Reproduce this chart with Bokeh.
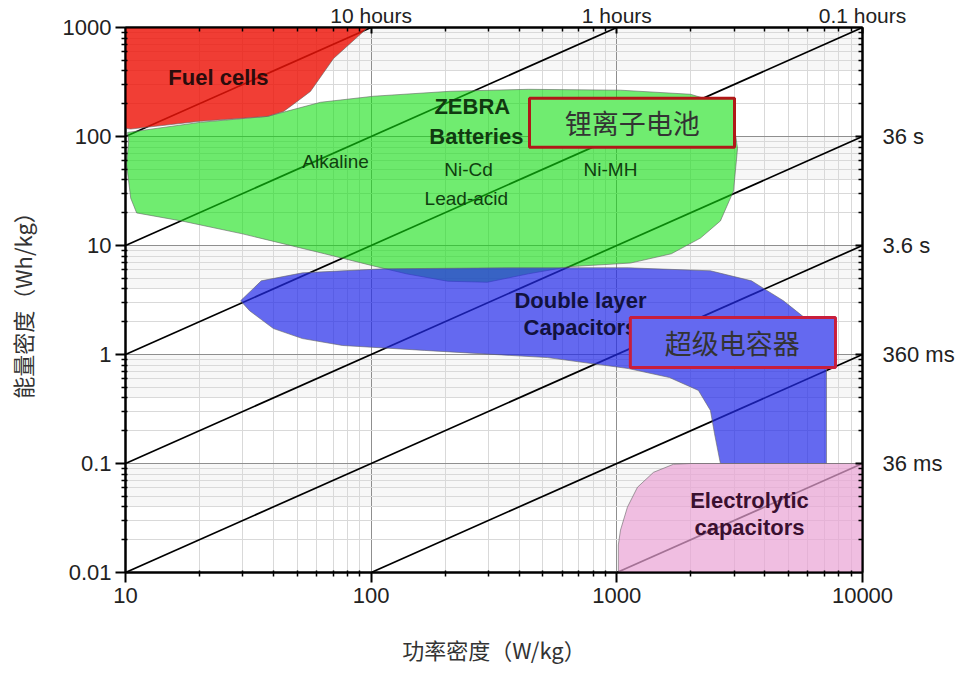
from bokeh.plotting import figure
from bokeh.models import LogAxis, FixedTicker, Range1d
from bokeh.core.properties import value
from bokeh.embed import file_html
from bokeh.resources import INLINE

# ---------------- axes / ticks ----------------
x_major = [10, 100, 1000, 10000]
x_tick_labels = ["10", "100", "1000", "10000"]
y_major = [0.01, 0.1, 1, 10, 100, 1000]
y_tick_labels = ["0.01", "0.1", "1", "10", "100", "1000"]
time_ticks = [0.1, 1, 10, 100]
time_labels = ["36 ms", "360 ms", "3.6 s", "36 s"]
hour_ticks = [100, 1000, 10000]
hour_labels = ["10 hours", "1 hours", "0.1 hours"]
mantissas = [2, 3, 4, 5, 6, 7, 8, 9]
x_minor = [m * d for d in [10, 100, 1000] for m in mantissas]
y_minor = [m * d for d in [0.01, 0.1, 1, 10, 100] for m in mantissas]

# light shading under each decade line
shade_top = [1000, 100, 10, 1, 0.1]
shade_bottom = [400, 40, 4, 0.4, 0.04]

# ---------------- constant discharge-time lines ----------------
line_p0 = [10, 10, 10, 10, 10, 100, 1000]
line_e0 = [100, 10, 1, 0.1, 0.01, 0.01, 0.01]
line_p1 = [100, 1000, 10000, 10000, 10000, 10000, 10000]
line_e1 = [1000, 1000, 1000, 100, 10, 1, 0.1]

# ---------------- regions (power W/kg, energy Wh/kg) ----------------
fuel_p = [10, 97, 70.3, 56.6, 48.3, 44, 37.9, 20.2, 10.5, 10]
fuel_e = [1000, 1000, 520, 259, 198, 170, 153, 138, 117, 119]

battery_p = [10.2, 20.2, 37.9, 62.2, 102, 210, 437, 1035, 1995, 2640, 2985, 3100,
             2985, 2640, 2190, 1667, 1135, 641, 437, 297, 205, 139, 102, 64.6,
             29.9, 16.9, 11.1, 10.5, 10.1, 10.3]
battery_e = [109, 135, 153, 206, 234, 260, 271, 266, 244, 202, 138, 78,
             31.6, 16.8, 11.7, 8.4, 6.9, 6.4, 5.5, 4.6, 4.7, 5.5, 6.5, 8.4,
             12.8, 16.8, 19.9, 27.2, 55.8, 90.6]

dlc_p = [29.4, 35.7, 52.5, 112, 356, 1114, 2404, 3532, 4766, 5804, 6745, 7134,
         7134, 2640, 2497, 2404, 2149, 1637, 1114, 522, 165, 76.4, 52.5, 40, 32]
dlc_e = [3.11, 4.74, 5.61, 6.11, 6.24, 6.24, 5.86, 4.74, 3.11, 2.18, 1.43, 0.88,
         0.1, 0.1, 0.189, 0.307, 0.468, 0.615, 0.743, 0.937, 1.09, 1.21, 1.40, 1.73, 2.52]

elec_p = [1014, 1014, 1035, 1104, 1213, 1410, 1700, 1995, 10000, 10000]
elec_e = [0.01, 0.0179, 0.0245, 0.0397, 0.0605, 0.083, 0.0984, 0.1, 0.1, 0.01]

# ---------------- region labels ----------------
fuel_lbl = dict(x=[23.9], y=[349], text=["Fuel cells"])
bat_bold_lbl = dict(x=[258, 268], y=[189, 100.7], text=["ZEBRA", "Batteries"])
bat_lbl = dict(x=[71.6, 249, 244, 942], y=[59.4, 50.2, 27.2, 50.2],
               text=["Alkaline", "Ni-Cd", "Lead-acid", "Ni-MH"])
dlc_lbl = dict(x=[711, 711], y=[3.11, 1.76], text=["Double layer", "Capacitors"])
elec_lbl = dict(x=[3467, 3467], y=[0.046, 0.026], text=["Electrolytic", "capacitors"])

# highlighted boxes (Chinese callouts)
liion_box = dict(left=[441], right=[3013], top=[224], bottom=[79.8])
liion_txt = dict(x=[1156], y=[135], text=["锂离子电池"])
sc_box = dict(left=[1135], right=[7762], top=[2.18], bottom=[0.759])
sc_txt = dict(x=[2953], y=[1.29], text=["超级电容器"])

LAT = "Liberation Sans"
CJK = "Noto Sans CJK SC"

p = figure(x_axis_type="log", y_axis_type="log",
           x_range=Range1d(10, 10000), y_range=Range1d(0.01, 1000),
           width=958, height=686,
           min_border_left=125, min_border_top=26, min_border_right=96, min_border_bottom=114,
           output_backend="svg", toolbar_location=None,
           background_fill_color="white", border_fill_color="white")
p.outline_line_color = "black"
p.outline_line_width = 2

xt = FixedTicker(ticks=x_major, minor_ticks=x_minor)
yt = FixedTicker(ticks=y_major, minor_ticks=y_minor)
p.xaxis.ticker = xt
p.yaxis.ticker = yt
p.xgrid.ticker = xt
p.ygrid.ticker = yt
for g in (p.xgrid, p.ygrid):
    g.grid_line_color = "#8f8f8f"
    g.grid_line_width = 1
    g.minor_grid_line_color = "#d9d9d9"
    g.minor_grid_line_width = 1

p.xaxis.major_label_overrides = dict(zip(x_major, x_tick_labels))
p.yaxis.major_label_overrides = dict(zip(y_major, y_tick_labels))

for ax in (p.xaxis[0], p.yaxis[0]):
    ax.axis_line_color = "black"
    ax.axis_line_width = 2
    ax.major_tick_line_color = "black"
    ax.major_tick_line_width = 2
    ax.minor_tick_line_color = "black"
    ax.minor_tick_line_width = 1.5
    ax.major_tick_out = 10
    ax.major_tick_in = 0
    ax.minor_tick_out = 4
    ax.minor_tick_in = 2
    ax.major_label_text_font = LAT
    ax.major_label_text_font_size = "22px"
    ax.major_label_text_color = "#222222"
    ax.axis_label_text_font = CJK
    ax.axis_label_text_font_size = "22px"
    ax.axis_label_text_font_style = "normal"
    ax.axis_label_text_color = "#333333"

p.xaxis.axis_label = "功率密度（W/kg）"
p.yaxis.axis_label = "能量密度（Wh/kg）"
p.xaxis.major_label_standoff = 5
p.yaxis.major_label_standoff = 4
p.xaxis.axis_label_standoff = 27
p.yaxis.axis_label_standoff = 22

# right axis: discharge times
ra = LogAxis(ticker=FixedTicker(ticks=time_ticks, minor_ticks=y_minor),
             major_label_overrides=dict(zip(time_ticks, time_labels)))
ra.axis_line_color = "black"
ra.axis_line_width = 2
ra.major_tick_in = 7
ra.major_tick_out = 0
ra.minor_tick_in = 4
ra.minor_tick_out = 0
ra.major_tick_line_width = 2
ra.minor_tick_line_width = 1.5
ra.major_label_standoff = 20
ra.major_label_text_font = LAT
ra.major_label_text_font_size = "22px"
ra.major_label_text_color = "#222222"
p.add_layout(ra, "right")

# top axis: discharge time in hours
ta = LogAxis(ticker=FixedTicker(ticks=hour_ticks, minor_ticks=x_minor),
             major_label_overrides=dict(zip(hour_ticks, hour_labels)))
ta.axis_line_color = "black"
ta.axis_line_width = 2
ta.major_tick_in = 6
ta.major_tick_out = 0
ta.minor_tick_in = 4
ta.minor_tick_out = 0
ta.major_tick_line_width = 2
ta.minor_tick_line_width = 1.5
ta.major_label_text_font = LAT
ta.major_label_text_font_size = "21px"
ta.major_label_text_color = "#222222"
ta.major_label_standoff = 1
p.add_layout(ta, "above")

# shading bands
p.quad(left=10, right=10000, top=shade_top, bottom=shade_bottom,
       fill_color="black", fill_alpha=0.03, line_color=None, level="underlay")

# constant time lines
p.segment(x0=line_p0, y0=line_e0, x1=line_p1, y1=line_e1, line_color="black", line_width=1.7)

# regions
outline = dict(line_color="#666666", line_alpha=0.6, line_width=1)
p.patch(battery_p, battery_e, fill_color="#10e010", fill_alpha=0.6, **outline)
p.patch(dlc_p, dlc_e, fill_color="#2229ea", fill_alpha=0.7, **outline)
p.patch(elec_p, elec_e, fill_color="#eaa2d4", fill_alpha=0.7, **outline)
p.patch(fuel_p, fuel_e, fill_color="#ee1408", fill_alpha=0.82, **outline)

# region labels
p.text(x="x", y="y", text="text", source=fuel_lbl, text_font=value(LAT), text_font_size="22px",
       text_font_style="bold", text_color="#2a0c0c", text_align="center", text_baseline="middle")
p.text(x="x", y="y", text="text", source=bat_bold_lbl, text_font=value(LAT), text_font_size="22px",
       text_font_style="bold", text_color="#103a10", text_align="center", text_baseline="middle")
p.text(x="x", y="y", text="text", source=bat_lbl, text_font=value(LAT), text_font_size="19px",
       text_color="#0f3f0f", text_align="center", text_baseline="middle")
p.text(x="x", y="y", text="text", source=dlc_lbl, text_font=value(LAT), text_font_size="22px",
       text_font_style="bold", text_color="#12123e", text_align="center", text_baseline="middle")
p.text(x="x", y="y", text="text", source=elec_lbl, text_font=value(LAT), text_font_size="22px",
       text_font_style="bold", text_color="#3a1030", text_align="center", text_baseline="middle")

# callout boxes
p.quad(source=liion_box, left="left", right="right", top="top", bottom="bottom",
       fill_color="#70ec70", line_color="#b01818", line_width=3)
p.text(x="x", y="y", text="text", source=liion_txt, text_font=value(CJK), text_font_size="27px",
       text_color="#333333", text_align="center", text_baseline="middle")
p.quad(source=sc_box, left="left", right="right", top="top", bottom="bottom",
       fill_color="#6469f0", line_color="#c81e3c", line_width=3)
p.text(x="x", y="y", text="text", source=sc_txt, text_font=value(CJK), text_font_size="27px",
       text_color="#333333", text_align="center", text_baseline="middle")

open("out.html", "w").write(file_html(p, INLINE))
